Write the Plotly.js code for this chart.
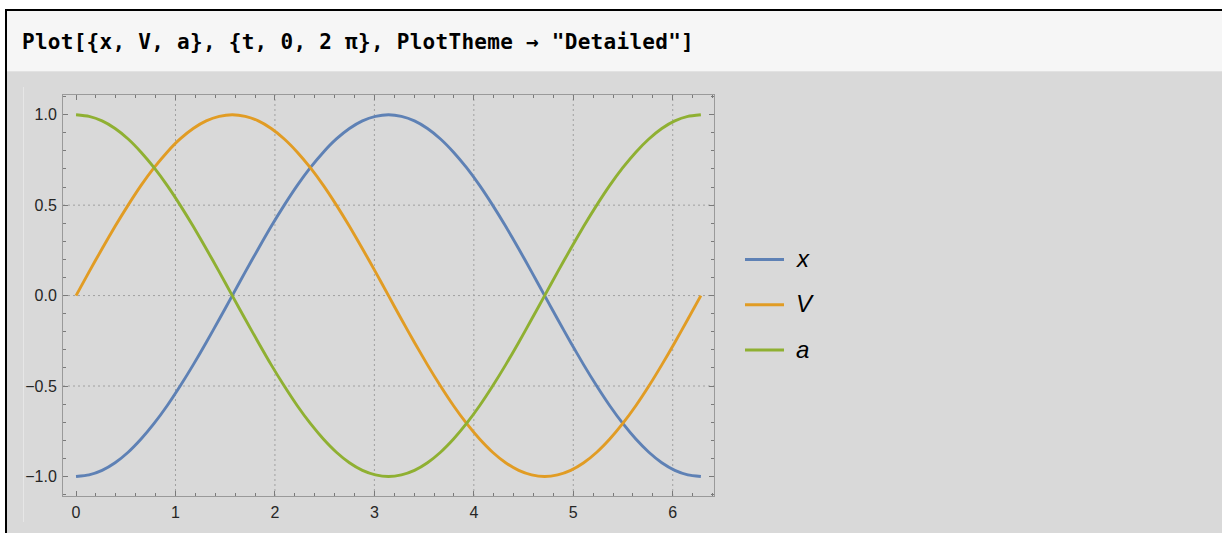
<!DOCTYPE html>
<html>
<head>
<meta charset="utf-8">
<script src="https://cdn.plot.ly/plotly-3.0.1.min.js"></script>
<style>
  html, body { margin: 0; padding: 0; background: #ffffff; width: 1222px; height: 533px; overflow: hidden; }
  #frame { position: absolute; left: 5px; top: 9px; width: 1217px; height: 524px;
           border-left: 2px solid #000; border-top: 2px solid #000; box-sizing: border-box; }
  #input { position: absolute; left: 7px; top: 11px; width: 1215px; height: 61px;
           background: #f6f6f6; border-bottom: 1px solid #e2e2e2; box-sizing: border-box; }
  #input span { position: absolute; left: 15px; top: 19px; font-family: "DejaVu Sans Mono", monospace;
                font-weight: bold; font-size: 21px; color: #000; white-space: pre; letter-spacing: 0.28px; }
  #output { position: absolute; left: 7px; top: 72px; width: 1215px; height: 461px; background: #d9d9d9; }
  #bracket { position: absolute; left: 23px; top: 87px; width: 1px; height: 435px; background: #e6e6e6; }
  #chart { position: absolute; left: 0; top: 0; width: 1222px; height: 533px; }
</style>
</head>
<body>
<div id="frame"></div>
<div id="input"><span>Plot[{x, V, a}, {t, 0, 2 π}, PlotTheme → "Detailed"]</span></div>
<div id="output"></div>
<div id="bracket"></div>
<div id="chart"></div>
<script>
// Parameter t over one full period, sampled every 7.5 degrees
const tValues = [0, 0.131, 0.262, 0.393, 0.524, 0.654, 0.785, 0.916, 1.047, 1.178, 1.309, 1.440, 1.571,
                 1.702, 1.833, 1.963, 2.094, 2.225, 2.356, 2.487, 2.618, 2.749, 2.880, 3.011, 3.142,
                 3.272, 3.403, 3.534, 3.665, 3.796, 3.927, 4.058, 4.189, 4.320, 4.451, 4.581, 4.712,
                 4.843, 4.974, 5.105, 5.236, 5.367, 5.498, 5.629, 5.760, 5.890, 6.021, 6.152, 6.283];

// Position
const xValues = [-1, -0.991, -0.966, -0.924, -0.866, -0.793, -0.707, -0.609, -0.5, -0.383, -0.259, -0.131, 0,
                 0.131, 0.259, 0.383, 0.5, 0.609, 0.707, 0.793, 0.866, 0.924, 0.966, 0.991, 1,
                 0.991, 0.966, 0.924, 0.866, 0.793, 0.707, 0.609, 0.5, 0.383, 0.259, 0.131, 0,
                 -0.131, -0.259, -0.383, -0.5, -0.609, -0.707, -0.793, -0.866, -0.924, -0.966, -0.991, -1];
// Velocity
const vValues = [0, 0.131, 0.259, 0.383, 0.5, 0.609, 0.707, 0.793, 0.866, 0.924, 0.966, 0.991, 1,
                 0.991, 0.966, 0.924, 0.866, 0.793, 0.707, 0.609, 0.5, 0.383, 0.259, 0.131, 0,
                 -0.131, -0.259, -0.383, -0.5, -0.609, -0.707, -0.793, -0.866, -0.924, -0.966, -0.991, -1,
                 -0.991, -0.966, -0.924, -0.866, -0.793, -0.707, -0.609, -0.5, -0.383, -0.259, -0.131, 0];
// Acceleration
const aValues = [1, 0.991, 0.966, 0.924, 0.866, 0.793, 0.707, 0.609, 0.5, 0.383, 0.259, 0.131, 0,
                 -0.131, -0.259, -0.383, -0.5, -0.609, -0.707, -0.793, -0.866, -0.924, -0.966, -0.991, -1,
                 -0.991, -0.966, -0.924, -0.866, -0.793, -0.707, -0.609, -0.5, -0.383, -0.259, -0.131, 0,
                 0.131, 0.259, 0.383, 0.5, 0.609, 0.707, 0.793, 0.866, 0.924, 0.966, 0.991, 1];

const seriesNames = ['x', 'V', 'a'];
const xTickVals = [0, 1, 2, 3, 4, 5, 6];
const yTickVals = [-1, -0.5, 0, 0.5, 1];
const xGridVals = [1, 2, 3, 4, 5, 6];
const yGridVals = [-0.5, 0, 0.5];

const colors = ['#5e81b5', '#e19c24', '#8fb032'];
const series = [xValues, vValues, aValues];

const traces = series.map((vals, i) => ({
  x: tValues,
  y: vals,
  name: seriesNames[i],
  type: 'scatter',
  mode: 'lines',
  line: { color: colors[i], width: 2.9, shape: 'spline', smoothing: 0.6 },
  hoverinfo: 'skip',
  showlegend: false
}));

// Plot area in pixels (margins below)
const M = { l: 63, r: 508, t: 95, b: 37 };
const W = 1222, H = 533;
const plotW = W - M.l - M.r, plotH = H - M.t - M.b;
const px = v => (v - M.l) / plotW;
const py = v => (H - M.b - v) / plotH;

const gridStyle = { color: '#a0a0a0', width: 1, dash: '2px,3px' };
const shapes = [
  ...xGridVals.map(v => ({ type: 'line', xref: 'x', yref: 'paper', x0: v, x1: v, y0: 0, y1: 1,
                           line: gridStyle, layer: 'below' })),
  ...yGridVals.map(v => ({ type: 'line', xref: 'paper', yref: 'y', x0: 0, x1: 1, y0: v, y1: v,
                           line: gridStyle, layer: 'below' }))
];

// Legend: a short line swatch and an italic label per series
const legendTop = 259.5, legendStep = 45.3;
const annotations = [];
seriesNames.forEach((name, i) => {
  const yy = legendTop + i * legendStep;
  shapes.push({ type: 'line', xref: 'paper', yref: 'paper', x0: px(745), x1: px(784), y0: py(yy), y1: py(yy),
                line: { color: colors[i], width: 3 } });
  annotations.push({ xref: 'paper', yref: 'paper', x: px(794), y: py(yy), xanchor: 'left', yanchor: 'middle',
                     text: name, showarrow: false, yshift: 1,
                     font: { family: 'Liberation Sans, Arial, sans-serif', size: 24, color: '#000', style: 'italic' } });
});

const axisCommon = {
  showgrid: false,
  zeroline: false,
  showline: true,
  linecolor: '#9a9a9a',
  linewidth: 1,
  mirror: 'allticks',
  ticks: 'inside',
  ticklen: 5,
  tickwidth: 1,
  tickcolor: '#7a7a7a',
  tickfont: { family: 'Liberation Sans, Arial, sans-serif', size: 16, color: '#262626' },
  fixedrange: true
};

const layout = {
  width: W,
  height: H,
  paper_bgcolor: 'rgba(0,0,0,0)',
  plot_bgcolor: 'rgba(0,0,0,0)',
  margin: Object.assign({ pad: 0 }, M),
  xaxis: Object.assign({}, axisCommon, {
    range: [-0.131, 6.415],
    tickvals: xTickVals,
    ticktext: xTickVals.map(String),
    ticklabelstandoff: 2,
    minor: { dtick: 0.2, tick0: 0, ticks: 'inside', ticklen: 3, tickcolor: '#7a7a7a', tickwidth: 1, showgrid: false }
  }),
  yaxis: Object.assign({}, axisCommon, {
    range: [-1.108, 1.109],
    tickvals: yTickVals,
    ticktext: yTickVals.map(v => v.toFixed(1).replace('-', '\u2212')),
    ticklabelstandoff: 2,
    minor: { dtick: 0.1, tick0: 0, ticks: 'inside', ticklen: 3, tickcolor: '#7a7a7a', tickwidth: 1, showgrid: false }
  }),
  shapes: shapes,
  annotations: annotations,
  showlegend: false
};

Plotly.newPlot('chart', traces, layout, { displayModeBar: false, staticPlot: true });
</script>
</body>
</html>
